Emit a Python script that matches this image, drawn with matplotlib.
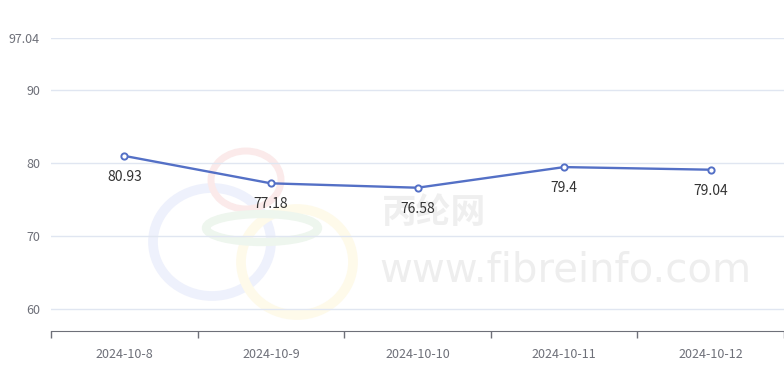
import matplotlib
matplotlib.use('Agg')
import matplotlib.pyplot as plt
from matplotlib.patches import Ellipse

plt.rcParams['font.family'] = ['Noto Sans CJK SC', 'DejaVu Sans']

dates = ['2024-10-8', '2024-10-9', '2024-10-10', '2024-10-11', '2024-10-12']
prices = [80.93, 77.18, 76.58, 79.4, 79.04]
y_ticks = [60, 70, 80, 90, 97.04]
y_tick_labels = ['60', '70', '80', '90', '97.04']

line_color = '#5470c6'
axis_color = '#6e7079'
grid_color = '#e0e6f1'

fig = plt.figure(figsize=(7.84, 3.73), dpi=100)
ax = fig.add_axes([51 / 784, 1 - 331 / 373, 733 / 784, (331 - 38) / 373])

# faint watermark behind the plot
wm = fig.add_axes([0, 0, 1, 1], zorder=-1)
wm.set_xlim(0, 784)
wm.set_ylim(373, 0)
wm.axis('off')
for cx, cy, w, h, lw, c in [(212, 242, 118, 108, 7, '#eef1fc'), (297, 262, 112, 106, 7, '#fefaea'),
                            (246, 180, 70, 58, 5, '#fbeaea'), (262, 228, 112, 28, 6, '#eef6ee')]:
    wm.add_patch(Ellipse((cx, cy), w, h, fill=False, lw=lw, ec=c))
wm.text(434, 212, '丙纶网', fontsize=25, color='#efefef', ha='center', va='center', fontweight='bold')
wm.text(565, 270, 'www.fibreinfo.com', fontsize=29, color='#eeeeee', ha='center', va='center',
        family='DejaVu Sans')

x = list(range(len(dates)))
ax.plot(x, prices, color=line_color, lw=1.7, marker='o', markersize=4.5,
        markerfacecolor='white', markeredgecolor=line_color, markeredgewidth=1.4, zorder=3)
for xi, v in zip(x, prices):
    ax.annotate(f'{v:g}', (xi, v), xytext=(0, -10), textcoords='offset points',
                ha='center', va='top', fontsize=10, color='#333333')

ax.set_xlim(-0.5, len(dates) - 0.5)
ax.set_ylim(57, 97.04)
ax.set_yticks(y_ticks)
ax.set_yticklabels(y_tick_labels)
ax.set_xticks(x)
ax.set_xticklabels(dates)
ax.set_xticks([i - 0.5 for i in range(len(dates) + 1)], minor=True)
ax.tick_params(axis='x', which='major', length=0, pad=12, labelsize=9, labelcolor=axis_color)
ax.tick_params(axis='x', which='minor', length=5, color=axis_color, width=1)
ax.tick_params(axis='y', length=0, pad=8, labelsize=9, labelcolor=axis_color)
ax.grid(axis='y', color=grid_color, lw=1)
ax.set_axisbelow(True)
for s in ['top', 'right', 'left']:
    ax.spines[s].set_visible(False)
ax.spines['bottom'].set_color(axis_color)
ax.patch.set_alpha(0)

fig.savefig('out.png', dpi=100)
